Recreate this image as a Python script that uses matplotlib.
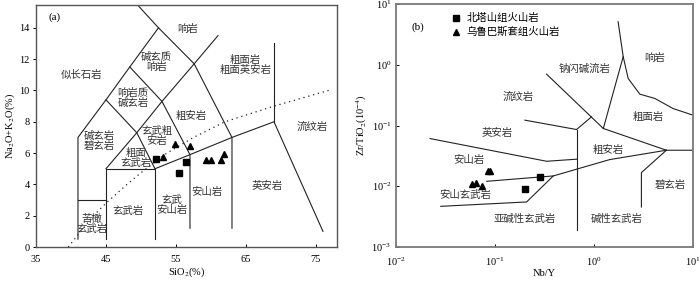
import matplotlib
matplotlib.use("Agg")
import matplotlib.pyplot as plt
from matplotlib.ticker import FixedLocator, NullLocator

plt.rcParams.update({
    "font.family": ["Liberation Serif", "Noto Sans CJK SC"],
    "mathtext.fontset": "stix",
    "axes.unicode_minus": False,
})
INK = "#222222"
CJK = ["Noto Sans CJK SC", "Liberation Serif"]

# ---- (a) TAS: boundaries (SiO2, Na2O+K2O) ----
tas_lines = [
    [(41, 0.5), (41, 7), (45, 9.4), (48.4, 11.5), (52.5, 14), (57.6, 11.7), (63, 7), (63, 1.2)],
    [(41, 3), (45, 3)],
    [(45, 0.5), (45, 5), (52, 5), (52, 0.5)],
    [(52, 5), (57, 5.9), (63, 7), (69, 8), (76, 1)],
    [(57, 1.2), (57, 5.9), (53, 9.3), (48.4, 11.5)],
    [(45, 5), (49.4, 7.3), (53, 9.3), (57.6, 11.7), (61, 13.5)],
    [(45, 9.4), (49.4, 7.3), (52, 5)],
    [(52.5, 14), (48.4, 16)],
    [(69, 8), (69, 13)],
]
alk_x = [39.6, 43.2, 45, 48, 50, 53.7, 57.5, 62, 69, 76.8]
alk_y = [0, 2, 2.8, 4, 4.75, 6, 7.0, 8, 9.0, 10.0]

tas_names = ["响岩", "碱玄质\n响岩", "粗面岩\n粗面英安岩", "似长石岩", "响岩质\n碱玄岩",
             "粗安岩", "流纹岩", "碱玄岩\n碧玄岩", "玄武粗\n安岩", "粗面\n玄武岩",
             "英安岩", "安山岩", "玄武\n安山岩", "玄武岩", "苦橄\n玄武岩"]
tas_name_x = [56.7, 52.2, 64.9, 41.5, 48.9, 57.2, 74.4, 44.1, 52.3, 49.3, 68.0, 59.4, 54.4, 48.2, 43.0]
tas_name_y = [13.9, 11.8, 11.6, 11.0, 9.5, 8.4, 7.7, 6.8, 7.1, 5.7, 3.9, 3.5, 2.7, 2.3, 1.5]

bts_sio2 = [52.2, 55.5, 56.5]
bts_alk = [5.65, 4.76, 5.4]
wlb_sio2 = [53.2, 54.9, 57.0, 59.3, 60.0, 61.4, 61.9]
wlb_alk = [5.75, 6.55, 6.46, 5.54, 5.54, 5.59, 5.93]

# ---- (b) Nb/Y vs Zr/TiO2: boundaries ----
wf_lines = [
    [(0.022, 0.061), (0.331, 0.0258), (0.665, 0.0279)],
    [(0.665, 0.00188), (0.665, 0.0859)],
    [(0.200, 0.1225), (0.665, 0.0859), (0.943, 0.139)],
    [(0.331, 0.70), (1.24, 0.0894)],
    [(1.24, 0.0894), (1.97, 1.36), (1.75, 5.1)],
    [(1.97, 1.36), (2.21, 0.596), (2.90, 0.328), (4.11, 0.279), (6.30, 0.19), (10, 0.148)],
    [(1.24, 0.0894), (5.38, 0.0392), (10, 0.0392)],
    [(5.38, 0.0392), (3.01, 0.0168), (3.01, 0.00456)],
    [(0.0822, 0.01208), (0.387, 0.0148), (1.44, 0.0275), (5.38, 0.0392)],
    [(0.0282, 0.00468), (0.208, 0.00552), (0.387, 0.0148)],
]
wf_names = ["响岩", "钠闪碱流岩", "流纹岩", "粗面岩", "英安岩", "粗安岩", "安山岩",
            "碧玄岩", "安山玄武岩", "亚碱性玄武岩", "碱性玄武岩"]
wf_name_x = [4.1, 0.81, 0.171, 3.5, 0.104, 1.39, 0.0537, 5.82, 0.0497, 0.200, 1.69]
wf_name_y = [1.27, 0.87, 0.297, 0.139, 0.0757, 0.039, 0.0268, 0.0104, 0.00711, 0.00293, 0.00293]

bts_nby = [0.284, 0.200]
bts_zrti = [0.0144, 0.00903]
wlb_nby = [0.0853, 0.088, 0.058, 0.0641, 0.0733]
wlb_zrti = [0.0181, 0.0181, 0.0108, 0.0112, 0.0102]

series_labels = ["北塔山组火山岩", "乌鲁巴斯套组火山岩"]

fig = plt.figure(figsize=(7.0, 2.83), dpi=100)
axa = fig.add_axes([0.0514, 0.127, 0.430, 0.855])
axb = fig.add_axes([0.566, 0.127, 0.424, 0.859])

# ---- panel (a) ----
for line in tas_lines:
    xs, ys = zip(*line)
    axa.plot(xs, ys, color=INK, lw=0.8)
axa.plot(alk_x, alk_y, color=INK, lw=0.9, ls=(0, (1, 3)))
for name, x, y in zip(tas_names, tas_name_x, tas_name_y):
    axa.text(x, y, name, fontsize=7.5, family=CJK, color="#333333",
             ha="center", va="center", linespacing=1.0)
axa.plot(bts_sio2, bts_alk, "s", color="black", ms=4.6, ls="none")
axa.plot(wlb_sio2, wlb_alk, "^", color="black", ms=5, ls="none")
axa.text(37.6, 14.7, "(a)", fontsize=8, ha="center", va="center")

axa.set_xlim(35, 78)
axa.set_ylim(0, 15.45)
axa.set_xticks([35, 45, 55, 65, 75])
axa.set_yticks(range(0, 15, 2))
axa.tick_params(axis="x", direction="in", length=2.5, width=0.7, labelsize=7.5, pad=6)
axa.tick_params(axis="y", direction="out", length=2.5, width=0.7, labelsize=7.5, pad=2)
axa.set_xlabel("SiO$_2$(%)", fontsize=7.5, labelpad=1)
axa.set_ylabel("Na$_2$O+K$_2$O(%)", fontsize=7.5, labelpad=2)
for s in axa.spines.values():
    s.set_linewidth(1.0)
    s.set_color("#555555")

# ---- panel (b) ----
axb.set_xscale("log")
axb.set_yscale("log")
for line in wf_lines:
    xs, ys = zip(*line)
    axb.plot(xs, ys, color=INK, lw=0.8)
for name, x, y in zip(wf_names, wf_name_x, wf_name_y):
    axb.text(x, y, name, fontsize=7.5, family=CJK, color="#333333",
             ha="center", va="center")
axb.plot(bts_nby, bts_zrti, "s", color="black", ms=5, ls="none",
         label=series_labels[0])
axb.plot(wlb_nby, wlb_zrti, "^", color="black", ms=5, ls="none",
         label=series_labels[1])
axb.legend(loc="upper left", bbox_to_anchor=(0.155, 1.0), frameon=False,
           prop={"family": CJK, "size": 7.5}, handlelength=0.8,
           handletextpad=0.6, labelspacing=0.35, borderaxespad=0.5)
axb.text(0.0165, 4.2, "(b)", fontsize=8, ha="center", va="center")

axb.set_xlim(1e-2, 1e1)
axb.set_ylim(1e-3, 1e1)
axb.xaxis.set_major_locator(FixedLocator([1e-2, 1e-1, 1e0, 1e1]))
axb.yaxis.set_major_locator(FixedLocator([1e-3, 1e-2, 1e-1, 1e0, 1e1]))
axb.xaxis.set_minor_locator(NullLocator())
axb.yaxis.set_minor_locator(NullLocator())
axb.tick_params(direction="in", length=2.5, width=0.7, labelsize=7.5)
axb.tick_params(axis="x", pad=6)
axb.set_xlabel("Nb/Y", fontsize=7.5, labelpad=1)
axb.set_ylabel("Zr/TiO$_2$(10$^{-4}$)", fontsize=7.5, labelpad=2)
for s in axb.spines.values():
    s.set_linewidth(1.3)
    s.set_color("#7a7a7a")

fig.savefig("out.png", dpi=100, facecolor="white")
